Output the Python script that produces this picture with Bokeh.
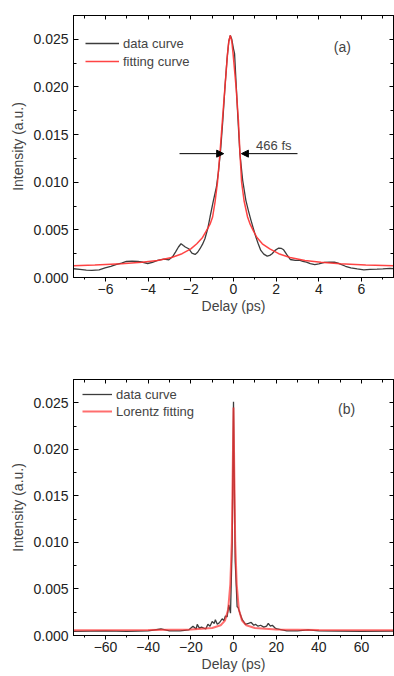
from bokeh.plotting import figure
from bokeh.layouts import column
from bokeh.models import (LinearAxis, SingleIntervalTicker, Range1d, Legend, LegendItem,
                          Label, Arrow, NormalHead, CustomJSTickFormatter, NumeralTickFormatter)
from bokeh.embed import file_html
from bokeh.resources import INLINE

FONT = "Liberation Sans"

# ---------------- panel (a) data ----------------
DELAY_A = [-7.5, -7.2, -6.9, -6.64, -6.3, -6.02, -5.75, -5.48, -5.25, -5.02, -4.75, -4.48, -4.25,
           -4.02, -3.8, -3.56, -3.26, -3.03, -2.85, -2.72, -2.58, -2.46, -2.35, -2.26, -2.1, -1.95,
           -1.8, -1.68, -1.57, -1.45, -1.34, -1.2, -1.1, -0.95, -0.8, -0.7, -0.6, -0.5, -0.4, -0.3,
           -0.22, -0.15, -0.08, 0.0, 0.05, 0.12, 0.2, 0.3, 0.43, 0.58, 0.7, 0.82, 0.95, 1.05, 1.15,
           1.28, 1.42, 1.58, 1.7, 1.81, 1.95, 2.12, 2.25, 2.35, 2.5, 2.66, 2.9, 3.12, 3.25, 3.42,
           3.6, 3.81, 4.0, 4.27, 4.5, 4.73, 4.9, 5.04, 5.25, 5.5, 5.8, 6.11, 6.4, 6.73, 7.0, 7.34, 7.5]
DATA_A = [0.00092, 0.00085, 0.00078, 0.00074, 0.00080, 0.00102, 0.00118, 0.00137, 0.00152, 0.00168,
          0.00172, 0.00168, 0.00160, 0.00147, 0.00158, 0.00179, 0.00193, 0.00186, 0.00220, 0.00267,
          0.00320, 0.00354, 0.00335, 0.00320, 0.00302, 0.00256, 0.00242, 0.00265, 0.00302, 0.00350,
          0.00407, 0.00520, 0.00635, 0.0080, 0.0095, 0.0112, 0.0135, 0.0165, 0.0200, 0.0230, 0.0248,
          0.0254, 0.0250, 0.0240, 0.0235, 0.0205, 0.0170, 0.0130, 0.0102, 0.0081, 0.0070, 0.0060,
          0.0050, 0.00424, 0.00360, 0.00284, 0.00245, 0.00224, 0.00232, 0.00249, 0.00285, 0.00309,
          0.00305, 0.00291, 0.00240, 0.00189, 0.00180, 0.00179, 0.00170, 0.00161, 0.00145, 0.00134,
          0.00142, 0.00158, 0.00160, 0.00161, 0.00150, 0.00137, 0.00118, 0.00102, 0.00090, 0.00081,
          0.00085, 0.00087, 0.00090, 0.00095, 0.00094]
FIT_X_A = [-7.5, -6.5, -5.25, -4.3, -3.56, -2.9, -2.41, -2.0, -1.72, -1.45, -1.26, -1.1, -0.98,
           -0.86, -0.75, -0.63, -0.52, -0.40, -0.28, -0.22, -0.15, -0.08, -0.02, 0.12, 0.23, 0.30,
           0.38, 0.5, 0.66, 0.78, 0.92, 1.1, 1.35, 1.7, 2.12, 2.65, 3.35, 4.1, 5.0, 6.2, 7.5]
FIT_A = [0.00123, 0.00130, 0.00144, 0.00160, 0.00179, 0.00210, 0.0025, 0.0030, 0.00354, 0.0042,
         0.00495, 0.0056, 0.00635, 0.0080, 0.0100, 0.0132, 0.0165, 0.0200, 0.0235, 0.0248, 0.0254,
         0.0248, 0.0235, 0.0200, 0.0165, 0.0132, 0.0100, 0.0080, 0.00635, 0.0056, 0.00495, 0.0042,
         0.00354, 0.0030, 0.0025, 0.0021, 0.00179, 0.00160, 0.00144, 0.00130, 0.00123]
LABELS_A = ["data curve", "fitting curve"]
FWHM_TEXT = "466 fs"
ARROW_Y = 0.013
ARROW_LEFT = [-2.53, -0.46]
ARROW_RIGHT = [3.0, 0.37]

# ---------------- panel (b) data ----------------
DELAY_B = [-75, -60, -50, -40, -34, -30, -25, -21, -19, -17.5, -17, -16, -15, -13, -12, -11, -10,
           -9, -8.5, -7.6, -6.5, -5.3, -4.5, -3.8, -3.0, -2.2, -1.4, -0.6, -0.2, 0.0, 0.3, 0.8,
           1.7, 2.2, 3.0, 4.1, 5.0, 5.6, 7.0, 8.3, 9.5, 10.3, 11.5, 12.7, 14.2, 15.5, 16.3, 17.3,
           18.2, 19.5, 20.5, 25, 30, 35, 40, 50, 60, 75]
DATA_B = [0.00045, 0.0005, 0.00045, 0.0005, 0.0007, 0.0005, 0.0005, 0.0006, 0.0010, 0.0007,
          0.0012, 0.0008, 0.0009, 0.0007, 0.0012, 0.0010, 0.0015, 0.0013, 0.0017, 0.0012, 0.0014,
          0.0018, 0.0016, 0.0021, 0.0020, 0.0033, 0.0024, 0.0100, 0.0200, 0.0251, 0.0180, 0.0080,
          0.0031, 0.0030, 0.0024, 0.0017, 0.0014, 0.0012, 0.0013, 0.0014, 0.0011, 0.0012, 0.0010,
          0.0011, 0.0009, 0.0010, 0.0013, 0.0010, 0.0011, 0.0008, 0.0007, 0.0005, 0.0005, 0.0006,
          0.0005, 0.00048, 0.00045, 0.00046]
FIT_X_B = [-75, -40, -20, -10, -6, -4, -2.5, -1.5, -0.8, -0.4, 0, 0.4, 0.8, 1.5, 2.5, 4, 6, 10,
           20, 40, 75]
FIT_B = [0.00057, 0.0006, 0.00065, 0.0008, 0.0011, 0.0016, 0.0028, 0.0055, 0.0100, 0.0170,
         0.0245, 0.0170, 0.0100, 0.0055, 0.0028, 0.0016, 0.0011, 0.0008, 0.00065, 0.0006, 0.00057]
LABELS_B = ["data curve", "Lorentz fitting"]

X_LABEL = "Delay (ps)"
Y_LABEL = "Intensity (a.u.)"

GRAY = "#3c3c3c"
RED = "#ff3030"

minus_fmt = CustomJSTickFormatter(code="return tick < 0 ? '\u2212' + Math.abs(tick) : String(tick);")
blank_fmt = CustomJSTickFormatter(code="return '';")

W = 394


def make_panel(height, x_rng, xint, min_left, min_top, min_bottom):
    p = figure(width=W, height=height, x_range=Range1d(*x_rng), y_range=Range1d(0, 0.0275),
               output_backend="svg", toolbar_location=None,
               min_border_left=min_left, min_border_right=1,
               min_border_top=min_top, min_border_bottom=min_bottom)
    p.xgrid.visible = False
    p.ygrid.visible = False
    p.outline_line_color = "black"
    p.outline_line_width = 1
    p.background_fill_color = "white"
    p.border_fill_color = "white"

    xa = p.xaxis[0]
    xa.ticker = SingleIntervalTicker(interval=xint, num_minor_ticks=2)
    xa.formatter = minus_fmt
    xa.major_tick_out = 4
    xa.major_tick_in = 0
    xa.minor_tick_out = 2
    xa.minor_tick_in = 0
    xa.major_label_standoff = 2
    xa.major_label_text_font = FONT
    xa.major_label_text_font_size = "14px"
    xa.major_label_text_color = "#222222"
    xa.axis_label = X_LABEL
    xa.axis_label_text_font = FONT
    xa.axis_label_text_font_style = "normal"
    xa.axis_label_text_font_size = "14px"
    xa.axis_label_standoff = 1
    xa.axis_line_color = "black"

    ya = p.yaxis[0]
    ya.ticker = SingleIntervalTicker(interval=0.005, num_minor_ticks=2)
    ya.formatter = NumeralTickFormatter(format="0.000")
    ya.major_tick_out = 0
    ya.major_tick_in = 5
    ya.minor_tick_out = 0
    ya.minor_tick_in = 3
    ya.major_label_standoff = 5
    ya.major_label_text_font = FONT
    ya.major_label_text_font_size = "14px"
    ya.major_label_text_color = "#222222"
    ya.axis_label = Y_LABEL
    ya.axis_label_text_font = FONT
    ya.axis_label_text_font_style = "normal"
    ya.axis_label_text_font_size = "14px"
    ya.axis_label_standoff = 4

    top = LinearAxis(ticker=SingleIntervalTicker(interval=xint, num_minor_ticks=2),
                     formatter=blank_fmt, major_tick_in=4, major_tick_out=0,
                     minor_tick_in=3, minor_tick_out=0, major_label_standoff=0,
                     major_label_text_font_size="1px")
    right = LinearAxis(ticker=SingleIntervalTicker(interval=0.005, num_minor_ticks=2),
                       formatter=blank_fmt, major_tick_in=4, major_tick_out=0,
                       minor_tick_in=3, minor_tick_out=0, major_label_standoff=0,
                       major_label_text_font_size="1px")
    p.add_layout(top, "above")
    p.add_layout(right, "right")
    return p


# ---------------- panel (a) ----------------
HA = 338
pa = make_panel(HA, (-7.5, 7.5), 2, 71, 15, 61)
ra1 = pa.line(DELAY_A, DATA_A, line_color=GRAY, line_width=1.3)
ra2 = pa.line(FIT_X_A, FIT_A, line_color=RED, line_width=1.5, line_alpha=0.9)
frame_h_a = HA - 15 - 61
leg_a = Legend(items=[LegendItem(label=LABELS_A[0], renderers=[ra1]),
                      LegendItem(label=LABELS_A[1], renderers=[ra2])],
               location=(12, frame_h_a - 20 - 34), padding=0, margin=0, spacing=2,
               glyph_width=34, glyph_height=16, label_height=16, label_standoff=4,
               label_text_font=FONT, label_text_font_size="13px",
               border_line_alpha=0, background_fill_alpha=0)
pa.add_layout(leg_a)
pa.add_layout(Arrow(end=NormalHead(size=7, fill_color="black", line_color="black"),
                    x_start=ARROW_LEFT[0], y_start=ARROW_Y, x_end=ARROW_LEFT[1], y_end=ARROW_Y,
                    line_color="black", line_width=1))
pa.add_layout(Arrow(end=NormalHead(size=7, fill_color="black", line_color="black"),
                    x_start=ARROW_RIGHT[0], y_start=ARROW_Y, x_end=ARROW_RIGHT[1], y_end=ARROW_Y,
                    line_color="black", line_width=1))
pa.add_layout(Label(x=1.06, y=ARROW_Y, y_offset=1, text=FWHM_TEXT, text_font=FONT,
                    text_font_size="13px", text_baseline="bottom", text_align="left"))
pa.add_layout(Label(x=5.1, y=0.0242, text="(a)", text_font=FONT, text_font_size="14px",
                    text_baseline="middle", text_align="center"))

# ---------------- panel (b) ----------------
HB = 338
pb = make_panel(HB, (-75, 75), 20, 73, 41, 41)
rb1 = pb.line(DELAY_B, DATA_B, line_color=GRAY, line_width=1.3)
rb2 = pb.line(FIT_X_B, FIT_B, line_color=RED, line_width=2, line_alpha=0.7)
frame_h_b = HB - 41 - 41
leg_b = Legend(items=[LegendItem(label=LABELS_B[0], renderers=[rb1]),
                      LegendItem(label=LABELS_B[1], renderers=[rb2])],
               location=(9, frame_h_b - 7 - 33), padding=0, margin=0, spacing=1,
               glyph_width=30, glyph_height=16, label_height=16, label_standoff=4,
               label_text_font=FONT, label_text_font_size="13px",
               border_line_alpha=0, background_fill_alpha=0)
pb.add_layout(leg_b)
pb.add_layout(Label(x=53, y=0.0243, text="(b)", text_font=FONT, text_font_size="14px",
                    text_baseline="middle", text_align="center"))

layout = column(pa, pb, spacing=0)
open("out.html", "w").write(file_html(layout, INLINE))
